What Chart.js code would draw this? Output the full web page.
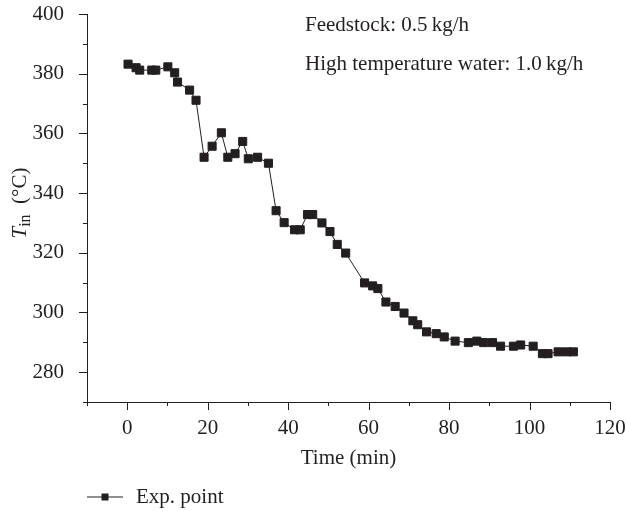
<!DOCTYPE html>
<html>
<head>
<meta charset="utf-8">
<script src="https://cdn.jsdelivr.net/npm/chart.js@4/dist/chart.umd.min.js"></script>
<style>
  html, body { margin: 0; padding: 0; background: #fff; }
  #wrap { width: 626px; height: 511px; position: relative; }
</style>
</head>
<body>
<div id="wrap"><canvas id="myChart" width="626" height="511"></canvas></div>
<script>
// data
const timeMin = [0.2, 2.2, 3.1, 6.1, 7.1, 10.1, 11.8, 12.5, 15.5, 17.1,
  19.1, 21.1, 23.4, 25.0, 26.8, 28.7, 30.1, 32.4, 35.1, 37.0,
  39.0, 41.6, 43.0, 44.8, 46.1, 48.4, 50.4, 52.2, 54.3, 59.0,
  61.0, 62.3, 64.3, 66.6, 68.8, 71.0, 72.2, 74.4, 76.8, 78.8,
  81.5, 84.8, 86.9, 88.6, 90.8, 92.8, 96.0, 97.8, 100.9, 103.2,
  104.6, 107.1, 109.2, 110.9];
const tempIn = [383.2, 382.0, 381.2, 381.2, 381.2, 382.3, 380.3, 377.2, 374.5, 371.1,
  352.0, 355.7, 360.2, 352.0, 353.2, 357.3, 351.5, 352.0, 350.0, 334.1,
  330.1, 327.7, 327.7, 332.8, 332.8, 330.0, 327.1, 322.8, 319.9, 309.9,
  308.9, 308.0, 303.5, 302.0, 299.8, 297.2, 295.9, 293.5, 292.9, 291.8,
  290.4, 289.9, 290.4, 289.9, 289.9, 288.7, 288.7, 289.1, 288.7, 286.2,
  286.2, 286.8, 286.8, 286.8];

const seriesName = "Exp. point";
const notes = ["Feedstock: 0.5\u2009kg/h", "High temperature water: 1.0\u2009kg/h"];
const xTitle = "Time (min)";

const ink = "#231f20";
const serif = "'Liberation Serif', 'DejaVu Serif', serif";
const fontPx = 21;

// legend sample: line with a square
const legendIcon = document.createElement("canvas");
legendIcon.width = 36;
legendIcon.height = 10;
(() => {
  const c = legendIcon.getContext("2d");
  c.fillStyle = ink;
  c.fillRect(0, 4.5, 36, 1);
  c.fillRect(14.5, 1.5, 7, 7);
})();

// tick marks: long on labelled values, short in between
const tickPlugin = {
  id: "tickPlugin",
  afterDraw(chart) {
    const ctx = chart.ctx;
    const xs = chart.scales.x;
    const ys = chart.scales.y;
    ctx.save();
    ctx.strokeStyle = ink;
    ctx.lineWidth = 1;
    ctx.beginPath();
    xs.ticks.forEach((t) => {
      const px = Math.round(xs.getPixelForValue(t.value)) + 0.5;
      const len = t.value % 20 === 0 ? 8 : 4;
      ctx.moveTo(px, xs.top);
      ctx.lineTo(px, xs.top + len);
    });
    ys.ticks.forEach((t) => {
      const py = Math.round(ys.getPixelForValue(t.value)) + 0.5;
      const len = t.value % 20 === 0 ? 8 : 4;
      ctx.moveTo(ys.right, py);
      ctx.lineTo(ys.right - len, py);
    });
    ctx.stroke();
    ctx.restore();
  }
};

const textPlugin = {
  id: "textPlugin",
  afterDraw(chart) {
    const ctx = chart.ctx;
    const area = chart.chartArea;
    ctx.save();
    ctx.fillStyle = ink;

    // notes, top right
    ctx.font = fontPx + "px " + serif;
    ctx.textAlign = "left";
    ctx.textBaseline = "alphabetic";
    ctx.fillText(notes[0], area.left + 218, 31);
    ctx.fillText(notes[1], area.left + 218, 70);

    // x title
    ctx.textAlign = "center";
    ctx.textBaseline = "middle";
    ctx.fillText(xTitle, (area.left + area.right) / 2, 458);

    // legend
    ctx.drawImage(legendIcon, area.left, 492);
    ctx.textAlign = "left";
    ctx.fillText(seriesName, area.left + 49, 497);

    // y title: T_in (°C)
    const big = "italic " + fontPx + "px " + serif;
    const small = Math.round(fontPx * 0.78) + "px " + serif;
    const norm = fontPx + "px " + serif;
    const rest = "\u2002(\u00B0C)";
    ctx.font = big; const wT = ctx.measureText("T").width;
    ctx.font = small; const wS = ctx.measureText("in").width;
    ctx.font = norm; const wR = ctx.measureText(rest).width;
    const total = wT + wS + wR;
    ctx.translate(26, 203);
    ctx.rotate(-Math.PI / 2);
    let x0 = -total / 2;
    ctx.textAlign = "left";
    ctx.textBaseline = "alphabetic";
    ctx.font = big; ctx.fillText("T", x0, 0); x0 += wT;
    ctx.font = small; ctx.fillText("in", x0, 4); x0 += wS;
    ctx.font = norm; ctx.fillText(rest, x0, 0);
    ctx.restore();
  }
};

const ctx = document.getElementById("myChart").getContext("2d");
new Chart(ctx, {
  type: "line",
  data: {
    datasets: [{
      label: seriesName,
      data: timeMin.map((t, i) => ({ x: t, y: tempIn[i] })),
      borderColor: ink,
      backgroundColor: ink,
      borderWidth: 1,
      pointStyle: "rect",
      pointRadius: 5.7,
      pointBorderWidth: 1,
      pointBorderColor: ink,
      pointBackgroundColor: ink,
      tension: 0,
    }],
  },
  options: {
    responsive: false,
    animation: false,
    layout: { padding: { left: 0, top: 14, right: 16, bottom: 39 } },
    plugins: {
      legend: { display: false },
      tooltip: { enabled: false },
    },
    scales: {
      x: {
        type: "linear",
        min: -10,
        max: 120,
        afterFit: (scale) => {
          scale.height = 70;
          scale.paddingLeft = 0;
          scale.paddingRight = 0;
        },
        border: { display: true, color: ink, width: 1 },
        grid: { display: false },
        ticks: {
          stepSize: 10,
          autoSkip: false,
          maxRotation: 0,
          padding: 6,
          color: ink,
          font: { family: serif, size: fontPx },
          callback: (v) => (v % 20 === 0 ? v : ""),
        },
      },
      y: {
        min: 270,
        max: 400,
        afterFit: (scale) => {
          scale.width = 87;
          scale.paddingTop = 0;
          scale.paddingBottom = 0;
        },
        border: { display: true, color: ink, width: 1 },
        grid: { display: false },
        ticks: {
          stepSize: 10,
          autoSkip: false,
          padding: 15,
          color: ink,
          font: { family: serif, size: fontPx },
          callback: (v) => (v % 20 === 0 ? v : ""),
        },
      },
    },
  },
  plugins: [tickPlugin, textPlugin],
});
</script>
</body>
</html>
